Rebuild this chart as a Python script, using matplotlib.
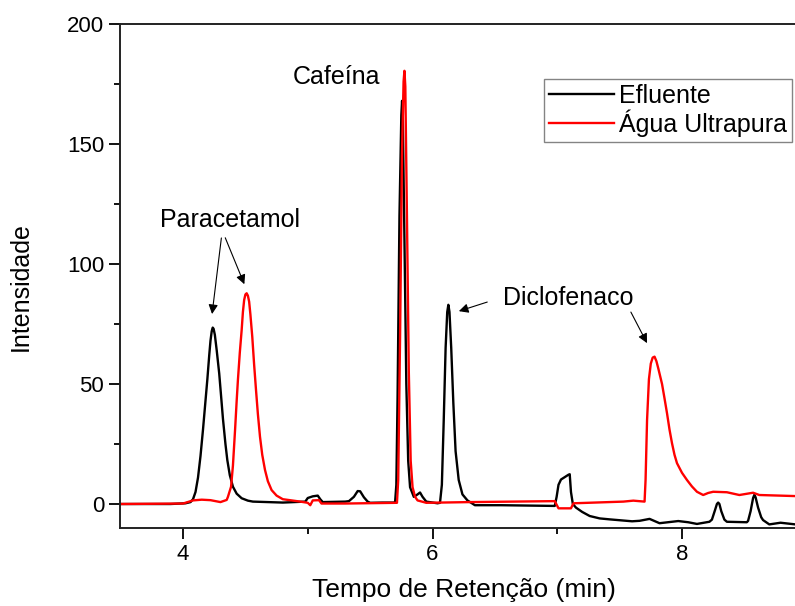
import matplotlib
matplotlib.use("Agg")
from matplotlib import pyplot as plt
from matplotlib.ticker import MultipleLocator

plt.rcParams['font.family'] = ['Liberation Sans', 'DejaVu Sans']

# Efluente (black trace): retention time (min), intensity
t_efluente = [3.50, 3.90, 4.02, 4.06, 4.08, 4.10, 4.12, 4.14, 4.16, 4.18, 4.195, 4.21,
              4.22, 4.23, 4.238, 4.245, 4.255, 4.27, 4.29, 4.305, 4.32, 4.34, 4.355, 4.375,
              4.40, 4.43, 4.47, 4.52, 4.56, 4.80, 4.98, 5.00, 5.04, 5.08, 5.10, 5.12,
              5.30, 5.33, 5.37, 5.40, 5.42, 5.45, 5.48, 5.50, 5.60, 5.69, 5.70, 5.71,
              5.72, 5.735, 5.75, 5.756, 5.762, 5.775, 5.79, 5.805, 5.82, 5.85, 5.88, 5.90,
              5.92, 5.95, 6.04, 6.06, 6.075, 6.09, 6.105, 6.118, 6.127, 6.136, 6.15, 6.167,
              6.185, 6.21, 6.24, 6.28, 6.34, 6.55, 6.98, 6.995, 7.01, 7.03, 7.06, 7.09,
              7.10, 7.11, 7.125, 7.15, 7.20, 7.26, 7.34, 7.42, 7.60, 7.66, 7.74, 7.82,
              7.97, 8.05, 8.12, 8.22, 8.24, 8.265, 8.28, 8.29, 8.30, 8.315, 8.34, 8.36,
              8.52, 8.53, 8.55, 8.57, 8.58, 8.59, 8.61, 8.635, 8.65, 8.70, 8.79, 8.91]
y_efluente = [0, 0, 0.3, 0.8, 2, 5, 11, 20, 31, 43, 52, 62,
              68, 72, 73.5, 73, 70.5, 64, 54.4, 45, 35.5, 25, 18.3, 12,
              7.2, 4.3, 2.4, 1.4, 1, 0.6, 1, 2.5, 3.2, 3.5, 2, 0.8,
              1, 1.2, 3, 5.4, 5.3, 2.8, 1, 0.5, 0.6, 0.6, 0.8, 8,
              45, 120, 162, 168, 160, 110, 50, 18, 7, 3, 4, 4.8,
              3, 1, 0.3, 0.5, 8, 35, 65, 80, 83, 80, 65, 42,
              22, 10, 4, 1.5, -0.5, -0.5, -0.8, 3, 8, 10.2, 11.2, 12.2,
              12.4, 5, 0, -1.5, -3.3, -5, -6, -6.4, -7.2, -7, -6.2, -8,
              -7.1, -7.6, -8.3, -7.4, -6.5, -2.5, 0, 0.6, 0, -3, -6.5, -7.4,
              -7.6, -7, -3, 2.5, 3.8, 2.8, -1.5, -5.5, -6.7, -8.5, -7.8, -8.5]

# Agua ultrapura (red trace)
t_agua = [3.50, 4.00, 4.08, 4.15, 4.22, 4.30, 4.35, 4.36, 4.385, 4.40, 4.417, 4.43,
          4.44, 4.455, 4.47, 4.48, 4.49, 4.50, 4.51, 4.52, 4.53, 4.54, 4.555, 4.57,
          4.585, 4.60, 4.617, 4.635, 4.657, 4.68, 4.71, 4.75, 4.80, 4.94, 5.00, 5.02,
          5.04, 5.09, 5.11, 5.30, 5.715, 5.725, 5.74, 5.755, 5.768, 5.775, 5.782, 5.795,
          5.81, 5.825, 5.84, 5.86, 5.88, 5.95, 6.30, 6.98, 7.01, 7.11, 7.13, 7.53,
          7.61, 7.70, 7.708, 7.72, 7.735, 7.75, 7.765, 7.78, 7.795, 7.81, 7.84, 7.86,
          7.88, 7.90, 7.92, 7.94, 7.96, 8.00, 8.04, 8.08, 8.12, 8.17, 8.21, 8.25,
          8.36, 8.46, 8.57, 8.62, 8.91]
y_agua = [0, 0.2, 1.5, 1.8, 1.6, 0.8, 1.7, 3, 7.2, 16, 30.8, 43,
          51.7, 63, 72.5, 80, 85, 87.3, 87.8, 86.8, 84.3, 79, 69.7, 58,
          47.5, 37.5, 28, 20.5, 14.2, 9.5, 5.8, 3.5, 2, 1, 0.5, -0.5,
          1.5, 1.6, 0.2, 0.2, 0.5, 10, 70, 145, 176, 180.5, 174, 120,
          55, 18, 7, 3, 1.5, 0.5, 0.8, 1.2, -1.8, -1.8, 0.3, 1,
          1.4, 1, 10, 35, 52, 58.5, 61, 61.4, 59.5, 56.5, 50, 44,
          37.8, 31, 25.3, 20.5, 17, 13, 10, 7.3, 5.1, 3.75, 4.6, 5.1,
          4.9, 3.75, 4.7, 3.75, 3.3]

fig = plt.figure(figsize=(7.95, 6.06), dpi=100)
ax = fig.add_axes([0.151, 0.1287, 0.849, 0.8317])

ax.plot(t_efluente, y_efluente, color='black', lw=1.7, label='Efluente')
ax.plot(t_agua, y_agua, color='red', lw=1.7, label='Água Ultrapura')

ax.set_xlim(3.495, 8.906)
ax.set_ylim(-10, 200)
ax.xaxis.set_major_locator(MultipleLocator(2))
ax.xaxis.set_minor_locator(MultipleLocator(1))
ax.yaxis.set_major_locator(MultipleLocator(50))
ax.yaxis.set_minor_locator(MultipleLocator(25))
ax.tick_params(which='major', length=8, width=1.3, labelsize=16, direction='out')
ax.tick_params(which='minor', length=4.5, width=1.3, direction='out')
ax.spines['right'].set_visible(False)
for s in ['left', 'top', 'bottom']:
    ax.spines[s].set_linewidth(1.4)
    ax.spines[s].set_color('#222222')

ax.set_xlabel('Tempo de Retenção (min)', fontsize=19)
ax.set_ylabel('Intensidade', fontsize=18)
ax.xaxis.set_label_coords(0.51, -0.1)
ax.yaxis.set_label_coords(-0.129, 0.48)

leg = ax.legend(loc='upper right', bbox_to_anchor=(0.995, 0.891), fontsize=18,
                frameon=True, fancybox=False, handlelength=2.6, handletextpad=0.2,
                borderpad=0.2, labelspacing=0.05, borderaxespad=0)
leg.get_frame().set_edgecolor('#666666')
leg.get_frame().set_linewidth(1.0)

arrow = dict(arrowstyle='-|>', color='black', lw=0.8, mutation_scale=14)
ax.text(5.23, 178, 'Cafeína', fontsize=18, ha='center', va='center')
ax.text(4.38, 118.5, 'Paracetamol', fontsize=18, ha='center', va='center')
ax.annotate('', xy=(4.23, 78), xytext=(4.31, 112), arrowprops=arrow)
ax.annotate('', xy=(4.50, 90.5), xytext=(4.33, 112), arrowprops=arrow)
ax.text(7.09, 86, 'Diclofenaco', fontsize=18, ha='center', va='center')
ax.annotate('', xy=(6.19, 80), xytext=(6.46, 84.5), arrowprops=arrow)
ax.annotate('', xy=(7.73, 66), xytext=(7.58, 81), arrowprops=arrow)

fig.savefig('out.png', dpi=100)
